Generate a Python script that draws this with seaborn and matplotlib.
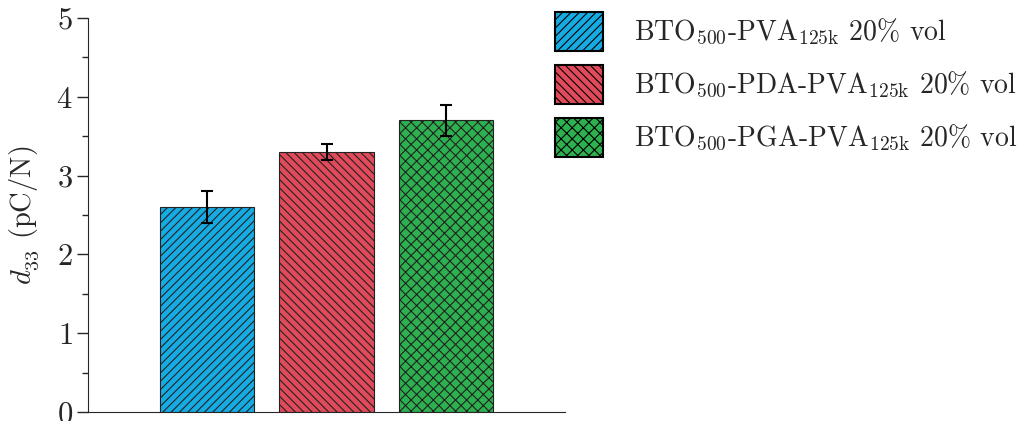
import pandas as pd
import seaborn as sns
import matplotlib
matplotlib.use("Agg")
from matplotlib import pyplot as plt
from matplotlib import ticker as ticktools

# data
samples = [r"BTO$_{500}$-PVA$_{125\mathrm{k}}$ 20% vol",
           r"BTO$_{500}$-PDA-PVA$_{125\mathrm{k}}$ 20% vol",
           r"BTO$_{500}$-PGA-PVA$_{125\mathrm{k}}$ 20% vol"]
d33 = [2.6, 3.3, 3.7]
d33_err = [0.2, 0.1, 0.2]
colors = ["#16ABE3", "#E04A5A", "#2DB04F"]
hatches = ["////", "\\\\\\\\", "xxx"]


def main():
  sns.set_style("ticks")
  plt.rcParams["font.family"] = "serif"
  plt.rcParams["font.serif"] = ["cmr10", "DejaVu Serif"]
  # cm fonts; bf slot borrowed for the old-style italic digits of d33
  plt.rcParams["mathtext.fontset"] = "custom"
  plt.rcParams["mathtext.rm"] = "cmr10"
  plt.rcParams["mathtext.it"] = "cmmi10"
  plt.rcParams["mathtext.bf"] = "cmmi10"
  plt.rcParams["axes.formatter.use_mathtext"] = True
  plt.rcParams["hatch.linewidth"] = 0.8

  df = pd.DataFrame({"sample": samples, "d33": d33, "err": d33_err})

  fig = plt.figure(figsize=(10.2, 4.21), dpi=100)
  ax = fig.add_axes([0.0863, 0.0214, 0.4677, 0.9358])

  sns.barplot(data=df, x="sample", y="d33", hue="sample", palette=colors,
              width=0.79, saturation=1, legend=False, ax=ax,
              edgecolor="#222222", linewidth=0.8)

  for patch, hatch in zip(ax.patches, hatches):
    patch.set_hatch(hatch)

  centers = [p.get_x() + p.get_width() / 2 for p in ax.patches]
  ax.errorbar(centers, df["d33"], yerr=df["err"], fmt="none",
              ecolor="black", elinewidth=1.5, capsize=4, capthick=1.5)

  ax.set_xlim(-1, 3)
  ax.set_ylim(0, 5)
  ax.set_xticks([])
  ax.set_xlabel("")
  ax.set_ylabel(r"$d_{\mathbf{33}}$ (pC/N)", fontsize=20.5, labelpad=10)
  ax.yaxis.set_minor_locator(ticktools.MultipleLocator(0.5))
  ax.tick_params(axis="y", which="major", length=8, width=1, labelsize=22, pad=3)
  ax.tick_params(axis="y", which="minor", length=4, width=1)
  sns.despine(ax=ax)

  handles = ax.patches[:3]
  leg = ax.legend(handles, samples, loc="upper left",
                  bbox_to_anchor=(0.544, 0.971), bbox_transform=fig.transFigure,
                  frameon=False, fontsize=20, borderpad=0, borderaxespad=0,
                  handlelength=1.75, handleheight=1.76,
                  labelspacing=0.52, handletextpad=1.1)
  for h in leg.legend_handles:
    h.set_linewidth(1.5)
    h.set_edgecolor("black")

  fig.savefig("out.png", dpi=100)


main()
